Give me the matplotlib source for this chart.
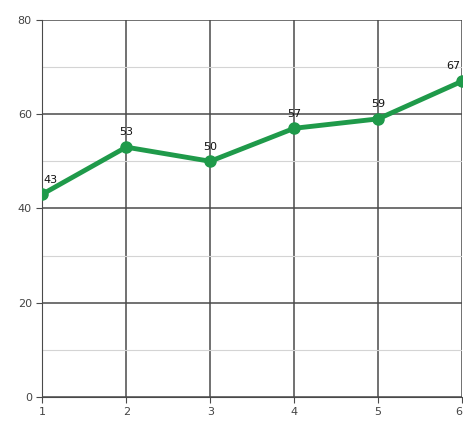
import matplotlib.pyplot as plt
from matplotlib.ticker import MultipleLocator

x = [1, 2, 3, 4, 5, 6]
values = [43, 53, 50, 57, 59, 67]

fig = plt.figure(figsize=(4.64, 4.24), dpi=100)
ax = fig.add_axes([0.091, 0.064, 0.905, 0.889])

ax.plot(x, values, color='#1f9a4a', linewidth=3.5, marker='o', markersize=8, zorder=3)
for i, (xi, v) in enumerate(zip(x, values)):
    # keep edge labels inside the axes
    if i == 0:
        ha, dx = 'left', 1
    elif i == len(x) - 1:
        ha, dx = 'right', -1
    else:
        ha, dx = 'center', 0
    ax.annotate(str(v), (xi, v), xytext=(dx, 7), textcoords='offset points',
                ha=ha, va='bottom', fontsize=8, color='#111111')

ax.set_xlim(1, 6)
ax.set_ylim(0, 80)
ax.set_xticks(x)
ax.yaxis.set_major_locator(MultipleLocator(20))
ax.yaxis.set_minor_locator(MultipleLocator(10))
ax.grid(which='major', color='#4a4a4a', linewidth=1.1)
ax.grid(which='minor', axis='y', color='#d4d4d4', linewidth=0.8)
ax.set_axisbelow(True)
for s in ['top', 'right']:
    ax.spines[s].set_visible(False)
ax.spines['left'].set_color('#4a4a4a')
ax.spines['bottom'].set_color('#4a4a4a')
ax.tick_params(axis='both', which='major', labelsize=8, labelcolor='#444444', color='#4a4a4a', length=4)
ax.tick_params(axis='y', which='minor', length=0)

# last x tick label sits at the figure edge, pull it inside
ax.get_xticklabels()[-1].set_horizontalalignment('right')

fig.savefig('out.png', dpi=100)
